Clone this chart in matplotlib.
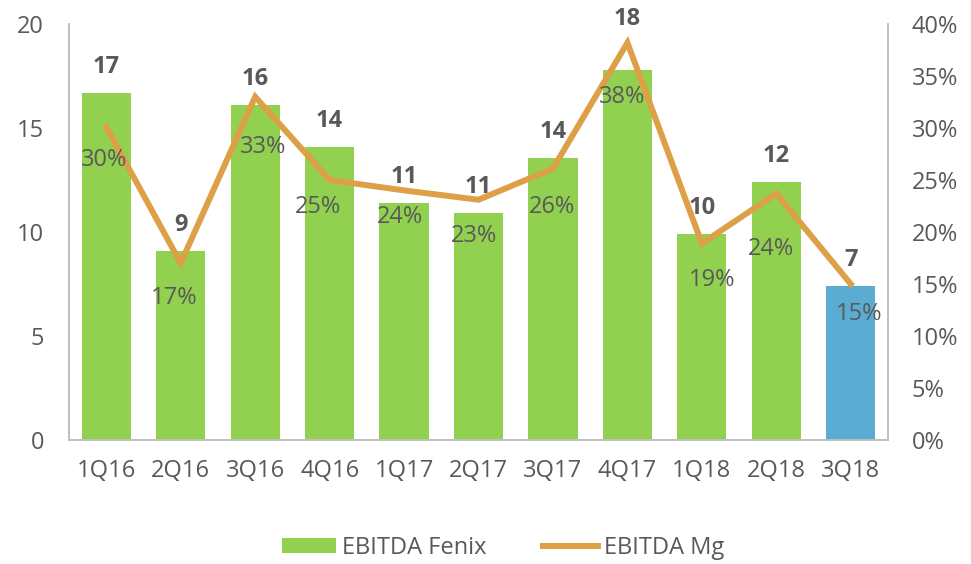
import matplotlib
matplotlib.use("Agg")
import matplotlib.pyplot as plt
from matplotlib.ticker import PercentFormatter

# data
quarters = ['1Q16', '2Q16', '3Q16', '4Q16', '1Q17', '2Q17', '3Q17', '4Q17', '1Q18', '2Q18', '3Q18']
ebitda_fenix = [16.7, 9.1, 16.1, 14.1, 11.4, 10.9, 13.55, 17.8, 9.9, 12.4, 7.4]
ebitda_mg = [0.301, 0.170, 0.330, 0.250, 0.240, 0.231, 0.261, 0.382, 0.189, 0.237, 0.150]

# label offsets (points), as placed in the original
bar_offsets = [18.7, 18.7, 18.7, 18.7, 18.7, 18.7, 18.7, 36.7, 18.7, 18.7, 18.7]
pct_offsets = [(-1.4, -23.8), (-5, -25.2), (5.8, -36), (-8.6, -19.4), (-2.9, -19.4),
               (-2.9, -25.9), (-0.7, -27.4), (-3.6, -38.9), (7.2, -26.6), (-3.6, -39.6),
               (5.8, -21.6)]

green = '#92D050'
blue = '#5BACD3'
orange = '#DDA046'
txt = '#595959'
axcol = '#BFBFBF'

plt.rcParams['font.family'] = ['Open Sans', 'DejaVu Sans']
plt.rcParams['font.size'] = 17

fig = plt.figure(figsize=(9.71, 5.64), dpi=100)
ax = fig.add_axes([0.0711, 0.2199, 0.9145 - 0.0711, 0.9574 - 0.2199])
ax2 = ax.twinx()

x = list(range(len(quarters)))
colors = [green] * (len(quarters) - 1) + [blue]
bars = ax.bar(x, ebitda_fenix, width=0.66, color=colors, zorder=2, label='EBITDA Fenix')
line, = ax2.plot(x, ebitda_mg, color=orange, linewidth=4.3, solid_joinstyle='miter',
                 zorder=3, label='EBITDA Mg')

ax.set_xlim(-0.5, 10.5)
ax.set_ylim(0, 20)
ax.set_yticks([0, 5, 10, 15, 20])
ax2.set_ylim(0, 0.40)
ax2.set_yticks([i * 0.05 for i in range(9)])
ax2.yaxis.set_major_formatter(PercentFormatter(1.0, decimals=0))
ax.set_xticks(x)
ax.set_xticklabels(quarters)

for a in (ax, ax2):
    a.spines['top'].set_visible(False)
    for s in ('left', 'right', 'bottom'):
        a.spines[s].set_color(axcol)
        a.spines[s].set_linewidth(1.2)
    a.tick_params(colors=txt, length=0)
ax.tick_params(axis='y', pad=18)
ax.tick_params(axis='x', pad=14)
ax2.tick_params(axis='y', pad=17)

# keep the line above the bars
ax.set_zorder(1)
ax2.set_zorder(2)
ax2.patch.set_visible(False)

for xi, v, off in zip(x, ebitda_fenix, bar_offsets):
    ax2.annotate(f'{v:.0f}', (xi, v / 50.0), xytext=(0, off), textcoords='offset points',
                 ha='center', va='center', fontweight='bold', color=txt, zorder=5)

for xi, m, off in zip(x, ebitda_mg, pct_offsets):
    ax2.annotate(f'{m * 100:.0f}%', (xi, m), xytext=off, textcoords='offset points',
                 ha='center', va='center', color=txt, zorder=5)

leg = fig.legend([bars[0], line], ['EBITDA Fenix', 'EBITDA Mg'], loc='center',
                 bbox_to_anchor=(503 / 971, 0.028), ncol=2, frameon=False,
                 handlelength=2.3, handleheight=0.6, handletextpad=0.25, columnspacing=2.4)
for t in leg.get_texts():
    t.set_color(txt)

fig.savefig('out.png', dpi=100)
